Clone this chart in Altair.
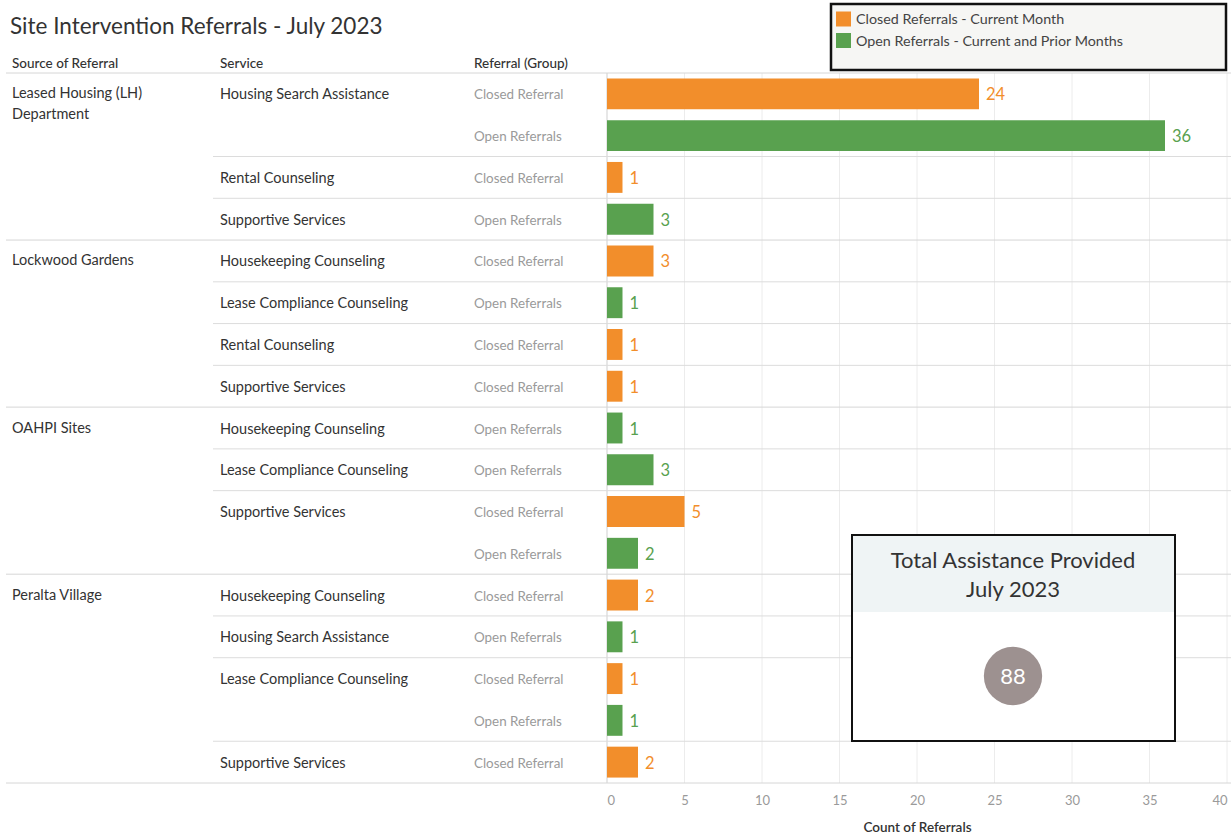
import altair as alt
import pandas as pd
import textwrap

TITLE = "Site Intervention Referrals - July 2023"
headers = ["Source of Referral", "Service", "Referral (Group)"]
sources = (["Leased Housing (LH) Department"] * 4 + ["Lockwood Gardens"] * 4
           + ["OAHPI Sites"] * 4 + ["Peralta Village"] * 5)
services = ["Housing Search Assistance", "Housing Search Assistance", "Rental Counseling", "Supportive Services",
            "Housekeeping Counseling", "Lease Compliance Counseling", "Rental Counseling", "Supportive Services",
            "Housekeeping Counseling", "Lease Compliance Counseling", "Supportive Services", "Supportive Services",
            "Housekeeping Counseling", "Housing Search Assistance", "Lease Compliance Counseling",
            "Lease Compliance Counseling", "Supportive Services"]
groups = ["Closed Referral", "Open Referrals", "Closed Referral", "Open Referrals",
          "Closed Referral", "Open Referrals", "Closed Referral", "Closed Referral",
          "Open Referrals", "Open Referrals", "Closed Referral", "Open Referrals",
          "Closed Referral", "Open Referrals", "Closed Referral", "Open Referrals", "Closed Referral"]
counts = [24, 36, 1, 3, 3, 1, 1, 1, 1, 3, 5, 2, 2, 1, 1, 1, 2]
group_names = ["Closed Referral", "Open Referrals"]
group_colors = ["#f28e2b", "#59a14f"]
legend_labels = ["Closed Referrals - Current Month", "Open Referrals - Current and Prior Months"]
x_ticks = [0, 5, 10, 15, 20, 25, 30, 35, 40]
x_title = "Count of Referrals"
total_title = "Total Assistance Provided\nJuly 2023"

FONT = "Lato"

df = pd.DataFrame({"row": list(range(len(counts))), "source": sources, "service": services,
                   "group": groups, "value": counts})
df["source_label"] = df["source"].apply(lambda s: textwrap.fill(s, 20))

first_src = df["source"] != df["source"].shift()
first_svc = first_src | (df["service"] != df["service"].shift())
src_df = df[first_src]
svc_df = df[first_svc]
sep_full = df[first_src & (df["row"] > 0)]
sep_svc = df[first_svc & ~first_src]
ticks_df = pd.DataFrame({"value": x_ticks})
one = pd.DataFrame({"d": [0]})

xscale = alt.Scale(domain=[0, 40], range=[607, 1227], nice=False)
yscale = alt.Scale(domain=list(range(len(counts))), range=[73, 783], paddingInner=0, paddingOuter=0)
cscale = alt.Scale(domain=group_names, range=group_colors)

x_axis = alt.Axis(values=x_ticks, grid=False, domain=False, ticks=False, labelColor="#9a9a9a",
                  labelFontSize=13, labelFont=FONT, labelPadding=11, titleFont=FONT,
                  titleFontSize=13.5, titleColor="#333333", titleFontWeight=600, titlePadding=13)
X = alt.X("value:Q", scale=xscale, axis=x_axis, title=x_title)
Y = alt.Y("row:O", scale=yscale, axis=None)

grid = alt.Chart(ticks_df).mark_rule(color="#ececec", strokeWidth=1).encode(
    x=X, y=alt.value(73), y2=alt.value(783)).transform_filter("datum.value > 0")
zero = alt.Chart(ticks_df).mark_rule(color="#cfcfcf", strokeWidth=1).encode(
    x=X, y=alt.value(73), y2=alt.value(783)).transform_filter("datum.value == 0")

header_line = alt.Chart(one).mark_rule(color="#d6d6d6").encode(
    x=alt.value(6), x2=alt.value(1231), y=alt.value(73))
bottom_line = alt.Chart(one).mark_rule(color="#d6d6d6").encode(
    x=alt.value(6), x2=alt.value(1231), y=alt.value(783))
full_lines = alt.Chart(sep_full).mark_rule(color="#d6d6d6").encode(
    x=alt.value(6), x2=alt.value(1231), y=alt.Y("row:O", scale=yscale, axis=None, bandPosition=0))
svc_lines = alt.Chart(sep_svc).mark_rule(color="#dcdcdc").encode(
    x=alt.value(213), x2=alt.value(1231), y=alt.Y("row:O", scale=yscale, axis=None, bandPosition=0))

bars = alt.Chart(df).mark_bar(height={"band": 0.74}).encode(
    x=X, y=Y, color=alt.Color("group:N", scale=cscale, legend=None))
vals = alt.Chart(df).mark_text(align="left", baseline="middle", dx=7, dy=1.5, fontSize=16.5, font=FONT).encode(
    x=X, y=Y, text="value:Q", color=alt.Color("group:N", scale=cscale, legend=None))

col_x = [12, 220, 474]
head_layers = [
    alt.Chart(pd.DataFrame({"h": [h]})).mark_text(align="left", baseline="middle", fontSize=13.5,
                                                  font=FONT, color="#333333", fontWeight=500).encode(
        x=alt.value(cx), y=alt.value(64), text="h:N")
    for h, cx in zip(headers, col_x)
]

src_text = alt.Chart(src_df).mark_text(align="left", baseline="top", dy=-6.5, fontSize=14.5, font=FONT,
                                       color="#333333", lineBreak="\n", lineHeight=21).encode(
    x=alt.value(col_x[0]), y=Y, text="source_label:N")
svc_text = alt.Chart(svc_df).mark_text(align="left", baseline="middle", dy=1.5, fontSize=14.5, font=FONT,
                                       color="#333333").encode(
    x=alt.value(col_x[1]), y=Y, text="service:N")
grp_text = alt.Chart(df).mark_text(align="left", baseline="middle", dy=1.5, fontSize=13.4, font=FONT,
                                   color="#9a9a9a").encode(
    x=alt.value(col_x[2]), y=Y, text="group:N")

legend_box = alt.Chart(one).mark_rect(fill="#f6f6f4", stroke="#111111", strokeWidth=2.5).encode(
    x=alt.value(831), x2=alt.value(1226), y=alt.value(4), y2=alt.value(70))
legend_layers = []
for i, (g, lab) in enumerate(zip(group_names, legend_labels)):
    ldf = pd.DataFrame({"group": [g], "label": [lab]})
    legend_layers.append(alt.Chart(ldf).mark_square(size=225, opacity=1).encode(
        x=alt.value(843.5), y=alt.value(19 + 21.5 * i),
        color=alt.Color("group:N", scale=cscale, legend=None)))
    legend_layers.append(alt.Chart(ldf).mark_text(align="left", baseline="middle", fontSize=14.3,
                                                  font=FONT, color="#444444").encode(
        x=alt.value(856), y=alt.value(20 + 21.5 * i), text="label:N"))

total_box = alt.Chart(one).mark_rect(fill="white", stroke="#111111", strokeWidth=2).encode(
    x=alt.value(852), x2=alt.value(1175), y=alt.value(535), y2=alt.value(741))
total_head = alt.Chart(one).mark_rect(fill="#eff4f5").encode(
    x=alt.value(853), x2=alt.value(1174), y=alt.value(536), y2=alt.value(612))
total_text = alt.Chart(pd.DataFrame({"t": [total_title]})).mark_text(
    align="center", baseline="top", dy=-9, fontSize=22, font=FONT, color="#333333",
    lineBreak="\n", lineHeight=29).encode(x=alt.value(1013), y=alt.value(560), text="t:N")
circle = alt.Chart(df).transform_aggregate(total="sum(value)").mark_circle(
    size=3400, color="#9d9190", opacity=1).encode(x=alt.value(1013), y=alt.value(676))
total_num = alt.Chart(df).transform_aggregate(total="sum(value)").mark_text(
    align="center", baseline="middle", fontSize=22, font=FONT, color="white").encode(
    x=alt.value(1013), y=alt.value(677), text="total:Q")

title = alt.Chart(pd.DataFrame({"t": [TITLE]})).mark_text(
    align="left", baseline="middle", fontSize=22.5, font=FONT, color="#333333").encode(
    x=alt.value(10), y=alt.value(27), text="t:N")

chart = alt.layer(
    grid, zero, header_line, full_lines, svc_lines, bottom_line, bars, vals,
    *head_layers, src_text, svc_text, grp_text,
    legend_box, *legend_layers,
    total_box, total_head, total_text, circle, total_num, title
).properties(
    width=1231, height=783,
    autosize=alt.AutoSizeParams(type="none"),
    padding={"left": 0, "top": 0, "right": 0, "bottom": 55},
    background="white"
).configure_view(strokeWidth=0)

chart.save("out.html", embed_options={"renderer": "svg", "actions": False})
